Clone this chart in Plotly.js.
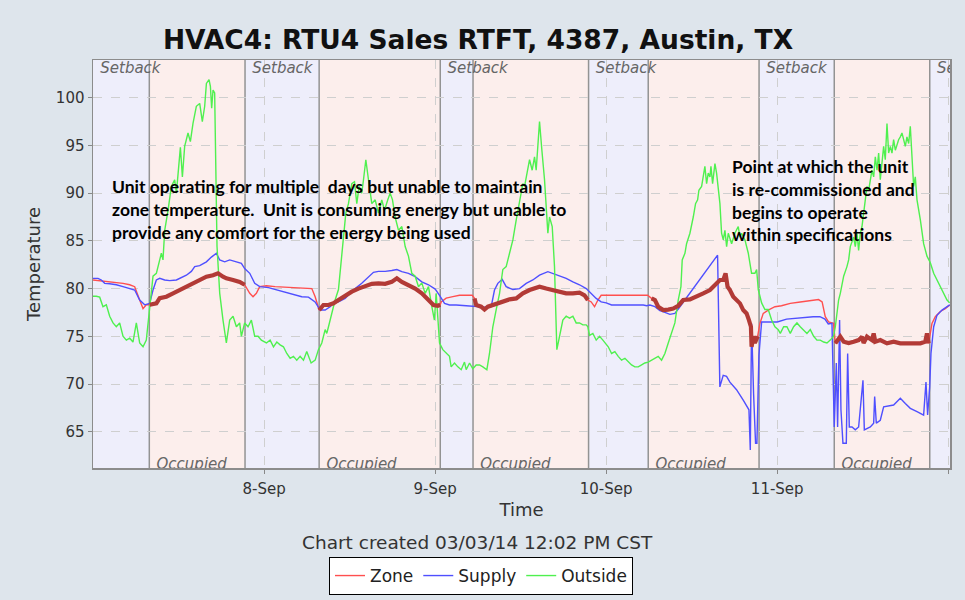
<!DOCTYPE html>
<html>
<head>
<meta charset="utf-8">
<script src="https://cdn.plot.ly/plotly-3.0.1.min.js"></script>
<style>html,body{margin:0;padding:0;background:#DEE5EC;}#chart{width:965px;height:600px;}</style>
</head>
<body>
<div id="chart"></div>
<script>
// Time is given in hours since 7-Sep 00:00
const startDate = Date.UTC(2013, 8, 7);
const endHour = 120.24;

const zoneHours = [0,1.40,2.81,4.21,5.15,5.85,6.55,7.02,7.48,7.95,8.89,9.36,10.29,11.23,12.16,13.10,14.03,14.97,15.91,16.84,17.54,18.24,18.71,19.65,20.58,21.28,21.99,22.45,22.92,23.39,24.33,25.55,27.42,29.29,30.70,31.17,31.73,32.33,33.04,33.74,34.44,35.38,36.31,37.25,38.18,39.12,40.05,40.99,41.92,42.63,43.33,44.26,45.20,46.13,47.07,47.77,48.38,48.72,48.85,49.55,50.49,51.42,52.36,53.20,53.53,53.76,54.46,54.93,55.40,56.10,56.80,57.50,58.44,59.38,60.31,61.25,61.95,62.65,63.59,64.52,65.46,66.39,67.33,68.26,68.96,69.43,69.90,70.37,70.84,71.30,72.00,73.69,75.56,77.81,78.37,78.84,79.30,80.01,80.71,81.41,82.11,82.81,83.75,84.68,85.62,86.56,87.49,87.96,88.43,88.75,89.03,89.36,89.83,90.30,90.77,91.23,91.70,92.03,92.31,92.40,92.64,92.87,93.25,93.57,94.04,94.74,95.68,96.60,97.83,99.23,101.10,101.80,102.30,102.74,103.20,103.90,104.15,104.85,105.32,106.02,106.72,107.42,107.89,108.12,108.59,109.29,109.53,109.76,110.46,111.40,112.33,113.27,114.20,115.14,116.08,116.77,117.01,117.24,117.71,118.18,118.88,119.58,120.20];
const zoneTemps = [80.9,80.8,80.7,80.55,80.4,80.2,78.8,77.9,78.3,78.3,78.45,79.0,79.15,79.5,79.85,80.2,80.55,80.9,81.25,81.4,81.6,81.25,81.07,80.9,80.7,80.4,79.5,79.15,79.5,80.2,80.3,80.2,80.1,80.0,80.0,79.15,77.75,78.28,78.28,78.45,78.8,79.3,79.67,80.0,80.2,80.5,80.55,80.5,80.7,81.07,80.7,80.37,80.0,79.5,78.8,78.28,78.2,78.3,78.6,79.0,79.15,79.3,79.3,79.3,78.97,78.28,78.1,77.8,78.1,78.28,78.5,78.6,78.87,78.97,79.5,79.85,80.0,80.2,80.0,79.85,79.67,79.5,79.5,79.57,79.3,78.8,78.6,78.1,78.8,79.3,79.3,79.3,79.3,79.3,78.97,78.8,78.1,77.75,77.8,77.9,78.2,78.8,78.87,79.15,79.5,79.85,80.55,80.9,80.9,81.6,80.2,79.85,79.15,78.8,78.45,77.75,77.4,76.7,76.0,73.9,75.0,74.3,75.0,76.35,77.4,77.75,78.1,78.2,78.45,78.6,78.8,78.85,78.6,77.05,76.5,76.35,74.26,74.96,74.43,74.3,74.43,74.6,74.96,74.3,74.96,74.6,75.3,74.43,74.6,74.26,74.43,74.26,74.26,74.26,74.26,74.43,75.3,74.26,76.35,77.05,77.6,77.9,78.28];

const supplyHours = [0,0.70,1.17,1.64,2.34,3.27,4.21,5.15,5.85,6.55,7.25,7.95,8.42,8.89,9.36,10.06,10.76,11.70,12.16,12.63,13.10,13.80,14.27,14.97,15.91,16.61,17.31,17.78,18.48,19.18,20.12,20.82,21.28,21.99,22.69,23.39,24.62,25.55,26.49,27.42,28.36,29.29,30.23,31.16,31.87,32.57,33.27,33.74,34.44,35.38,36.08,36.78,37.71,38.65,39.35,40.05,40.99,41.92,42.63,43.33,44.26,45.20,46.13,47.07,48.01,48.62,49.32,50.02,50.95,52.36,53.76,55.40,55.87,56.33,56.80,57.41,57.97,58.91,59.84,60.78,61.71,62.65,63.82,64.52,65.46,66.39,67.33,68.26,69.20,69.90,70.60,71.30,72.00,72.76,74.63,77.20,77.67,78.14,78.84,79.54,80.24,80.94,81.64,82.35,87.63,87.86,87.95,88.42,88.89,89.36,90.29,91.23,91.93,92.03,92.22,92.40,92.68,92.96,93.15,93.43,93.81,94.74,96.00,97.31,98.71,99.65,101.05,101.99,102.69,103.16,103.68,104.00,104.29,104.47,104.75,104.94,105.22,105.69,105.88,106.11,106.49,106.95,107.42,108.03,108.22,109.06,109.53,109.67,109.90,110.46,110.93,112.33,113.27,113.97,114.67,115.61,116.54,116.87,117.10,117.39,117.57,117.95,118.41,119.12,119.82,120.20];
const supplyTemps = [81.07,81.07,80.9,80.55,80.5,80.4,80.2,80.0,79.85,78.8,78.3,78.45,79.85,80.9,81.07,80.9,80.83,80.9,81.07,81.25,81.4,81.8,82.3,82.4,82.8,83.3,83.7,83.0,82.8,83.0,82.8,82.65,82.1,81.6,80.55,80.2,80.1,79.9,79.67,79.5,79.3,79.15,79.1,78.6,77.75,77.75,78.1,78.45,78.6,78.97,79.5,80.0,80.55,81.25,81.7,81.8,81.8,81.9,82.0,81.77,81.6,81.25,80.7,80.4,79.95,79.3,78.45,78.28,78.28,78.2,78.1,78.03,78.1,79.85,80.55,80.97,80.2,79.9,80.0,80.55,80.9,81.4,81.77,81.6,81.3,81.07,80.7,80.4,80.0,79.5,78.97,78.6,78.5,78.28,78.28,78.28,78.2,78.28,78.1,77.7,77.5,77.3,77.4,78.1,83.5,71.1,69.7,70.9,70.8,70.2,69.4,68.3,67.3,67.3,63.1,76.35,69.0,63.8,63.8,73.0,76.5,76.5,76.5,76.8,76.9,76.95,77.05,77.05,76.8,76.3,76.35,65.5,72.2,65.5,76.7,67.3,63.8,63.8,73.2,65.5,65.5,65.2,65.5,70.4,65.2,65.5,65.9,68.7,65.9,66.2,67.6,67.8,68.5,67.95,67.45,67.1,66.75,70.2,66.75,69.7,73.2,76.0,77.2,77.75,78.1,78.3];

const outsideHours = [0,0.47,0.94,1.40,1.87,2.34,2.81,3.27,3.74,4.21,4.68,5.15,5.61,6.08,6.55,7.02,7.48,7.86,8.19,8.42,8.89,9.36,9.59,9.82,10.06,10.53,10.99,11.46,11.70,12.26,12.54,12.86,13.33,13.66,14.03,14.50,14.97,15.34,15.67,15.91,16.28,16.47,16.65,16.84,17.07,17.40,17.78,18.24,18.71,19.18,19.65,20.12,20.58,20.82,21.28,21.75,22.22,22.69,23.16,23.62,24.33,24.85,25.32,25.79,26.25,26.72,27.19,27.66,28.12,28.59,29.06,29.53,29.99,30.60,31.17,31.63,32.10,32.57,32.80,33.04,33.50,33.97,34.44,34.91,35.14,35.47,35.84,36.31,36.69,37.01,37.34,37.71,37.95,38.28,38.65,39.12,39.59,40.05,40.52,40.90,41.36,41.69,42.02,42.39,42.86,43.33,43.80,44.26,44.73,45.20,45.67,46.13,46.60,47.07,47.54,47.77,47.90,48.15,48.38,48.62,49.08,49.55,50.02,50.25,50.72,51.19,51.66,52.12,52.36,52.83,53.29,53.76,54.23,54.70,55.26,55.63,56.10,56.57,57.04,57.50,57.97,58.44,58.91,59.38,59.84,60.31,60.55,60.78,61.25,61.62,61.95,62.18,62.42,62.65,62.98,63.35,63.82,64.05,64.43,64.75,65.08,65.46,65.92,66.39,66.86,67.33,67.79,68.26,68.73,69.20,69.43,69.67,70.13,70.60,71.07,71.54,72.00,72.29,72.76,73.22,73.69,74.16,74.63,75.09,75.56,76.03,76.50,76.97,77.43,77.90,78.37,78.84,79.30,79.77,80.24,80.71,81.18,81.64,82.11,82.49,82.67,83.05,83.28,83.75,84.22,84.54,84.83,85.01,85.39,85.62,85.85,86.09,86.32,86.56,86.70,86.93,87.26,87.49,87.73,87.96,88.19,88.43,88.66,88.90,89.13,89.60,90.06,90.53,90.77,91.00,91.47,91.94,92.40,92.87,93.11,93.34,93.81,94.27,94.74,95.21,95.68,96.14,96.43,96.90,97.36,97.83,98.30,98.77,99.23,99.70,100.17,100.64,101.11,101.57,102.04,102.51,102.98,103.44,103.91,104.15,104.38,104.61,104.85,105.08,105.32,105.78,106.02,106.25,106.72,106.95,107.19,107.42,107.66,107.89,108.12,108.36,108.59,108.83,109.06,109.29,109.53,109.76,110.00,110.23,110.46,110.70,110.93,111.16,111.40,111.63,111.87,112.10,112.33,112.57,112.80,113.03,113.27,113.50,113.74,113.97,114.20,114.44,114.67,114.91,115.14,115.37,115.61,116.08,116.54,117.01,117.48,117.95,118.41,118.88,119.35,119.82,120.20];
const outsideTemps = [79.2,79.2,79.1,78.1,78.3,77.1,76.4,76.0,76.4,75.0,74.6,74.8,74.4,76.4,74.3,73.9,74.6,77.4,79.5,81.3,81.6,83.0,83.7,83.0,86.1,88.2,90.7,91.4,90.0,94.8,91.7,94.9,96.3,95.4,97.3,99.1,99.4,97.5,99.1,101.5,101.9,101.2,98.9,100.8,100.5,84.4,79.5,76.7,74.3,76.7,77.1,76.0,76.4,75.0,76.4,76.0,76.7,75.0,75.0,74.6,74.3,74.6,73.9,74.4,74.1,73.9,73.2,72.7,72.9,72.5,72.9,72.5,73.4,72.2,72.5,73.6,74.3,75.7,75.3,76.0,77.4,78.8,79.9,83.7,85.8,87.9,88.9,91.0,91.2,88.9,90.7,90.0,91.4,93.5,91.4,88.9,89.3,87.9,89.3,88.2,89.3,90.0,89.3,87.5,86.1,86.5,84.4,83.4,81.6,81.3,80.2,80.6,79.5,80.2,78.1,77.4,76.7,79.5,77.4,74.3,73.6,73.2,72.9,71.8,72.2,71.8,71.5,72.3,71.5,72.2,71.6,72.0,72.0,71.8,71.5,73.2,76.0,77.8,79.5,82.0,82.3,83.7,85.1,87.2,89.3,91.0,90.7,91.7,93.5,92.4,93.8,92.4,95.2,97.5,94.5,91.4,85.8,87.5,86.5,82.3,73.6,75.0,76.7,77.1,76.9,77.1,76.4,76.4,76.2,76.2,76.0,75.1,75.3,74.6,75.0,74.6,74.1,73.9,73.2,73.4,72.9,72.5,72.7,72.3,72.0,71.8,71.8,72.0,72.2,72.3,72.5,72.7,72.9,72.5,73.2,74.3,75.3,76.4,78.8,80.2,83.0,83.7,84.7,85.8,87.5,88.9,89.3,90.3,90.7,91.7,92.8,91.0,92.1,91.7,92.8,91.0,93.1,92.1,90.0,88.9,85.8,85.1,86.1,84.4,85.8,84.7,85.8,86.5,85.4,85.8,85.1,83.7,81.6,81.6,82.0,79.9,78.5,77.8,77.8,76.7,76.0,75.7,75.3,76.0,76.0,75.3,76.0,76.4,76.0,75.7,75.3,75.7,75.0,74.6,74.6,74.4,74.3,74.6,75.0,76.0,77.4,78.8,79.5,80.6,81.3,82.3,83.0,84.4,85.4,84.4,85.8,84.0,85.8,86.5,87.9,88.9,90.7,90.3,91.4,92.4,91.7,93.8,92.4,94.2,91.4,93.5,94.9,93.5,97.3,94.2,94.9,94.2,95.6,94.5,95.2,95.6,95.9,96.3,95.6,94.9,95.9,95.2,97.0,93.8,90.7,91.7,89.3,87.2,84.7,83.4,82.7,81.6,80.9,80.2,79.5,78.8,78.5];

// Schedule (hours since 7-Sep 00:00)
const occupiedStart = [7.9, 31.73, 53.32, 77.9, 104.0];
const occupiedEnd   = [21.33, 48.72, 69.53, 93.45, 117.4];
const setbackStart  = [0, 21.33, 48.72, 69.53, 93.45, 117.4];
const setbackEnd    = [7.9, 31.73, 53.32, 77.9, 104.0, endHour];
const dayTickHours  = [24, 48, 72, 96, 120];
const dayTickText   = ['8-Sep', '9-Sep', '10-Sep', '11-Sep', '12-Sep'];

const seriesNames = ['Zone', 'Supply', 'Outside'];
const seriesColors = ['#FF4F4F', '#4F4FFF', '#4FF04F'];
const occupiedZoneColor = '#B23A36';

const toDate = h => startDate + h * 3600000;

const traces = [
  {x: zoneHours.map(toDate), y: zoneTemps, name: seriesNames[0], type: 'scatter', mode: 'lines', line: {color: seriesColors[0], width: 1.4}},
  {x: supplyHours.map(toDate), y: supplyTemps, name: seriesNames[1], type: 'scatter', mode: 'lines', line: {color: seriesColors[1], width: 1.4}},
  {x: outsideHours.map(toDate), y: outsideTemps, name: seriesNames[2], type: 'scatter', mode: 'lines', line: {color: seriesColors[2], width: 1.4}}
];

// Thick zone line during occupied periods
const ox = [], oy = [];
occupiedStart.forEach((s, i) => {
  const e = occupiedEnd[i];
  zoneHours.forEach((h, j) => {
    if (h >= s - 0.05 && h <= e + 0.05) { ox.push(toDate(h)); oy.push(zoneTemps[j]); }
  });
  ox.push(null); oy.push(null);
});
traces.push({x: ox, y: oy, type: 'scatter', mode: 'lines', showlegend: false, hoverinfo: 'skip',
  line: {color: occupiedZoneColor, width: 4.2}, connectgaps: false});

// Schedule labels, clipped at plot edges
const yr = [61.2, 103.95];
const labelFont = {family: 'DejaVu Sans', size: 15, color: '#666', style: 'italic'};
traces.push({x: setbackStart.map(toDate), y: setbackStart.map(() => 102.95), type: 'scatter', mode: 'markers+text',
  marker: {size: 10, opacity: 0}, text: setbackStart.map(() => 'Setback'), textposition: 'middle right',
  cliponaxis: true, showlegend: false, hoverinfo: 'skip', textfont: labelFont});
traces.push({x: occupiedStart.map(toDate), y: occupiedStart.map(() => 61.5), type: 'scatter', mode: 'markers+text',
  marker: {size: 10, opacity: 0}, text: occupiedStart.map(() => 'Occupied'), textposition: 'middle right',
  cliponaxis: true, showlegend: false, hoverinfo: 'skip', textfont: labelFont});

const shapes = [];
setbackStart.forEach((s, i) => shapes.push({type: 'rect', xref: 'x', yref: 'paper', x0: toDate(s), x1: toDate(setbackEnd[i]), y0: 0, y1: 1, fillcolor: '#EEEEFB', line: {width: 0}, layer: 'below'}));
occupiedStart.forEach((s, i) => shapes.push({type: 'rect', xref: 'x', yref: 'paper', x0: toDate(s), x1: toDate(occupiedEnd[i]), y0: 0, y1: 1, fillcolor: '#FCEEEC', line: {width: 0}, layer: 'below'}));
setbackStart.slice(1).forEach(s => shapes.push({type: 'line', xref: 'x', yref: 'paper', x0: toDate(s), x1: toDate(s), y0: 0, y1: 1, line: {color: '#939393', width: 1.5}, layer: 'below'}));
occupiedStart.forEach(s => shapes.push({type: 'line', xref: 'x', yref: 'paper', x0: toDate(s), x1: toDate(s), y0: 0, y1: 1, line: {color: '#939393', width: 1.5}, layer: 'below'}));

const tickFont = {family: 'DejaVu Sans', size: 15, color: '#333'};
const annFont = {family: 'Lato', size: 17.5, color: '#000', weight: 'bold'};
const layout = {
  width: 965, height: 600,
  paper_bgcolor: '#DEE5EC', plot_bgcolor: '#ffffff',
  margin: {l: 93, r: 15, t: 60, b: 132},
  title: {text: 'HVAC4: RTU4 Sales RTFT, 4387, Austin, TX', x: 478 / 965, xref: 'container', xanchor: 'center',
    y: 1 - 40 / 600, yref: 'container', yanchor: 'middle',
    font: {family: 'DejaVu Sans', size: 26.5, color: '#111', weight: 'bold'}},
  xaxis: {type: 'date', range: [toDate(0), toDate(endHour)], tickmode: 'array',
    tickvals: dayTickHours.map(toDate), ticktext: dayTickText,
    showgrid: true, gridcolor: '#CFCFCF', griddash: 'dash', gridwidth: 1, ticks: 'outside', ticklen: 4, tickcolor: '#888',
    ticklabelstandoff: 2,
    tickfont: tickFont, showline: true, mirror: true, linecolor: '#8C8C8C', linewidth: 1.5, zeroline: false,
    title: {text: 'Time', font: {family: 'DejaVu Sans', size: 18, color: '#333'}, standoff: 7}},
  yaxis: {range: yr, dtick: 5, tick0: 65, showgrid: true, gridcolor: '#CFCFCF', griddash: 'dash', gridwidth: 1,
    ticks: 'outside', ticklen: 4, tickcolor: '#888', tickfont: tickFont, showline: true, mirror: true,
    linecolor: '#8C8C8C', linewidth: 1.5, zeroline: false,
    title: {text: 'Temperature', font: {family: 'DejaVu Sans', size: 18, color: '#333'}, standoff: 10}},
  shapes: shapes,
  showlegend: true,
  legend: {orientation: 'h', xref: 'container', yref: 'container', x: 329 / 965, xanchor: 'left', y: 1 - 557 / 600, yanchor: 'top',
    bgcolor: '#ffffff', bordercolor: '#000', borderwidth: 1, font: {family: 'DejaVu Sans', size: 17, color: '#222'}},
  annotations: [
    {text: 'Chart created 03/03/14 12:02 PM CST', xref: 'paper', yref: 'paper', x: (477 - 93) / 857, y: (468 - 542) / 408,
      xanchor: 'center', yanchor: 'middle', showarrow: false, font: {family: 'DejaVu Sans', size: 18.5, color: '#333'}},
    {text: 'Unit operating for multiple  days but unable to maintain<br>zone temperature.  Unit is consuming energy but unable to<br>provide any comfort for the energy being used',
      xref: 'paper', yref: 'paper', x: (110 - 93) / 857, y: (468 - 174) / 408, xanchor: 'left', yanchor: 'top', align: 'left',
      showarrow: false, font: annFont},
    {text: 'Point at which the unit<br>is re-commissioned and<br>begins to operate<br>within specifications',
      xref: 'paper', yref: 'paper', x: (730 - 93) / 857, y: (468 - 154) / 408, xanchor: 'left', yanchor: 'top', align: 'left',
      showarrow: false, font: annFont}
  ]
};

Plotly.newPlot('chart', traces, layout, {displayModeBar: false, staticPlot: true});
</script>
</body>
</html>
